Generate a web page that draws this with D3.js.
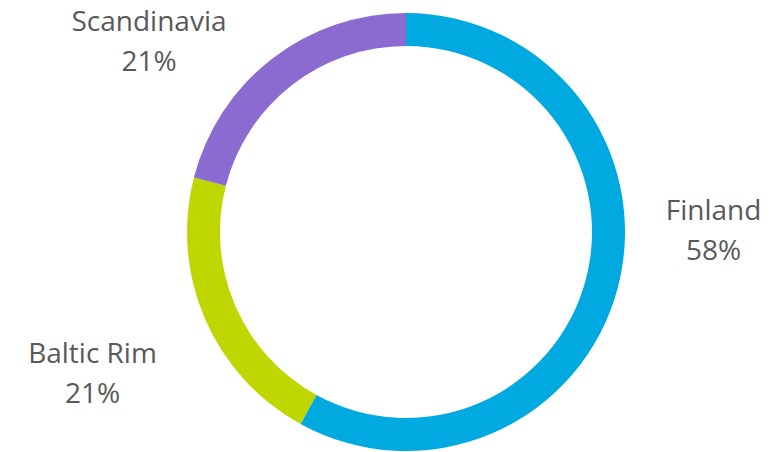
<!DOCTYPE html>
<html>
<head>
<meta charset="utf-8">
<script src="https://cdn.jsdelivr.net/npm/d3@7"></script>
<style>
  body { margin: 0; background: #fff; }
  svg { display: block; }
</style>
</head>
<body>
<div id="chart-area"></div>
<script>
var regions = ['Finland', 'Baltic Rim', 'Scandinavia']
var shares = [58, 21, 21]
var colors = ['#00a9e0', '#bfd600', '#8b6bd0']

var width = 774, height = 452
var cx = 406, cy = 232
var outerR = 219, innerR = 186

// label anchor: centre x and baseline of the first line
var labelPos = [[713.5, 220], [92.5, 363], [149, 31]]
var lineGap = 40

var svg = d3.select('#chart-area')
  .append('svg')
  .attr('width', width)
  .attr('height', height)

var g = svg.append('g')
  .attr('transform', 'translate(' + cx + ',' + cy + ')')

var pie = d3.pie().sort(null).value(function(d) { return d })
var arc = d3.arc().innerRadius(innerR).outerRadius(outerR)

g.selectAll('path')
  .data(pie(shares))
  .enter()
  .append('path')
  .attr('d', arc)
  .attr('fill', function(d, i) { return colors[i] })

var labels = svg.selectAll('text.lbl')
  .data(regions)
  .enter()
  .append('text')
  .attr('class', 'lbl')
  .attr('text-anchor', 'middle')
  .attr('font-family', 'Open Sans, sans-serif')
  .attr('font-size', 28)
  .attr('fill', '#595959')

labels.append('tspan')
  .attr('x', function(d, i) { return labelPos[i][0] })
  .attr('y', function(d, i) { return labelPos[i][1] })
  .text(function(d) { return d })

labels.append('tspan')
  .attr('x', function(d, i) { return labelPos[i][0] })
  .attr('y', function(d, i) { return labelPos[i][1] + lineGap })
  .text(function(d, i) { return shares[i] + '%' })
</script>
</body>
</html>
